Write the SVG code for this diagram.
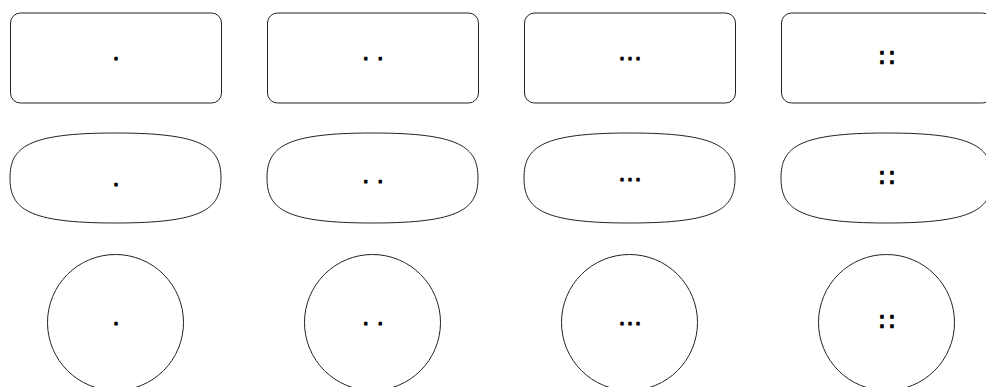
<svg xmlns="http://www.w3.org/2000/svg" width="986" height="387" viewBox="0 0 986 387">
<style>
.s{fill:#fff;stroke:#222;stroke-width:1}
.t{font-family:"Liberation Sans","DejaVu Sans",sans-serif;font-size:24px;fill:#000;stroke:#000;stroke-width:1.1;stroke-linejoin:round;text-anchor:middle}
</style>
<defs>
<path id="blob" d="M115.5,133 C203,133 221,147 221,178 C221,209 203,223 115.5,223 C28,223 10,209 10,178 C10,147 28,133 115.5,133 Z"/>
</defs>
<g id="connectors"/>
<g id="r1c1"><rect class="s" x="10.5" y="13" width="211" height="90" rx="10"/><text class="t" x="116" y="65">·</text></g>
<g id="r1c2"><rect class="s" x="267.5" y="13" width="211" height="90" rx="10"/><text class="t" x="373" y="65">· ·</text></g>
<g id="r1c3"><rect class="s" x="524.5" y="13" width="211" height="90" rx="10"/><text class="t" x="630" y="65">···</text></g>
<g id="r1c4"><rect class="s" x="781.5" y="13" width="211" height="90" rx="10"/><text class="t" x="887" y="65.5">∷</text></g>
<g id="r2c1"><use href="#blob" class="s"/><text class="t" x="116" y="191">·</text></g>
<g id="r2c2"><use href="#blob" class="s" x="257"/><text class="t" x="373" y="188">· ·</text></g>
<g id="r2c3"><use href="#blob" class="s" x="514"/><text class="t" x="630" y="186">···</text></g>
<g id="r2c4"><use href="#blob" class="s" x="771"/><text class="t" x="887" y="185.5">∷</text></g>
<g id="r3c1"><circle class="s" cx="115.5" cy="322.5" r="68"/><text class="t" x="116" y="329.5">·</text></g>
<g id="r3c2"><circle class="s" cx="372.5" cy="322.5" r="68"/><text class="t" x="373" y="329.5">· ·</text></g>
<g id="r3c3"><circle class="s" cx="629.5" cy="322.5" r="68"/><text class="t" x="630" y="329.5">···</text></g>
<g id="r3c4"><circle class="s" cx="886.5" cy="322.5" r="68"/><text class="t" x="887" y="330">∷</text></g>
</svg>
